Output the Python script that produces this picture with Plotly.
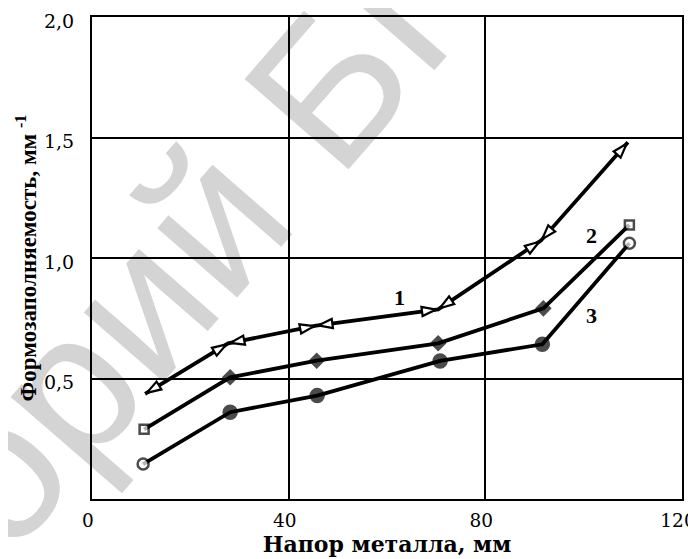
import plotly.graph_objects as go

# Series data (x: напор металла, мм; y: формозаполняемость, мм^-1)
x1 = [10.8, 27.7, 45.6, 70.4, 91.3, 109.0]
y1 = [0.436, 0.646, 0.719, 0.787, 1.072, 1.48]
x2 = [10.6, 28.1, 45.7, 70.4, 91.8, 109.3]
y2 = [0.289, 0.505, 0.574, 0.646, 0.791, 1.137]
x3 = [10.4, 28.1, 45.8, 70.8, 91.6, 109.3]
y3 = [0.145, 0.36, 0.429, 0.573, 0.642, 1.061]

series_labels = ["1", "2", "3"]
label_x = [62.6, 101.6, 101.6]
label_y = [0.838, 1.095, 0.763]

x_ticks = [0, 40, 80, 120]
y_ticks = [0.5, 1.0, 1.5, 2.0]
y_ticktext = ["0,5", "1,0", "1,5", "2,0"]

watermark_text = "Репозиторий БГТУ"

SERIF = "DejaVu Serif"
TIMES = "Liberation Serif"
LW = 3.8

fig = go.Figure()

# Curve 1: line with double arrowheads on each segment
fig.add_trace(go.Scatter(x=x1, y=y1, mode="lines",
                         line=dict(color="black", width=LW), showlegend=False))
arrow_marker = dict(symbol="arrow", angleref="previous", size=15, standoff=2,
                    color="white", line=dict(color="black", width=2.2))
fig.add_trace(go.Scatter(x=x1, y=y1, mode="markers", marker=arrow_marker,
                         showlegend=False))
fig.add_trace(go.Scatter(x=x1[::-1], y=y1[::-1], mode="markers", marker=arrow_marker,
                         showlegend=False))

# Curve 2: diamonds, open squares at ends
n2 = len(x2)
fig.add_trace(go.Scatter(
    x=x2, y=y2, mode="lines+markers",
    line=dict(color="black", width=LW),
    marker=dict(symbol=["square"] + ["diamond"] * (n2 - 2) + ["square"],
                size=[9] + [10] * (n2 - 2) + [9],
                color=["white"] + ["black"] * (n2 - 2) + ["white"],
                line=dict(color="black", width=2.5)),
    showlegend=False))

# Curve 3: circles, open circles at ends
n3 = len(x3)
fig.add_trace(go.Scatter(
    x=x3, y=y3, mode="lines+markers",
    line=dict(color="black", width=LW),
    marker=dict(symbol="circle",
                size=[11] + [13] * (n3 - 2) + [11],
                color=["white"] + ["black"] * (n3 - 2) + ["white"],
                line=dict(color="black", width=2.5)),
    showlegend=False))

annotations = []
for t, lx, ly in zip(series_labels, label_x, label_y):
    annotations.append(dict(x=lx, y=ly, xref="x", yref="y", text="<b>%s</b>" % t,
                            showarrow=False,
                            font=dict(family=TIMES, size=22, color="black")))

# scanned-document watermark, kept behind the grid and curves
fig.add_shape(type="line", xref="paper", yref="paper",
              x0=-0.2298, y0=0.0281, x1=-0.0074, y1=0.3413,
              line=dict(width=0, color="rgba(0,0,0,0)"), layer="below",
              label=dict(text=watermark_text, textposition="middle",
                         yanchor="middle", padding=0,
                         font=dict(family="Liberation Sans", size=200, color="#d4d4d4")))

fig.update_layout(
    width=688, height=551,
    margin=dict(l=84, r=14, t=9, b=60),
    paper_bgcolor="white", plot_bgcolor="rgba(0,0,0,0)",
    font=dict(family=SERIF, color="black"),
    annotations=annotations,
    xaxis=dict(range=[0, 120], tickvals=x_ticks, ticks="", automargin=False,
               ticklabeloverflow="allow", ticklabelshift=-4,
               showgrid=True, gridcolor="black", gridwidth=1.5,
               showline=True, linecolor="black", linewidth=2, mirror=True,
               zeroline=False, tickfont=dict(family=SERIF, size=18.5),
               ticklabelstandoff=4,
               title=dict(text="<b>Напор металла, мм</b>", standoff=3,
                          font=dict(family=SERIF, size=22))),
    yaxis=dict(range=[0, 2.0], tickvals=y_ticks, ticktext=y_ticktext, ticks="",
               automargin=False, ticklabeloverflow="allow", ticklabelshift=4,
               showgrid=True, gridcolor="black", gridwidth=1.5,
               showline=True, linecolor="black", linewidth=2, mirror=True,
               zeroline=False, tickfont=dict(family=SERIF, size=19),
               ticklabelstandoff=12,
               title=dict(text="<b>Формозаполняемость, мм <sup>-1</sup></b>", standoff=1,
                          font=dict(family=TIMES, size=23))),
)

fig.write_html("out.html")
